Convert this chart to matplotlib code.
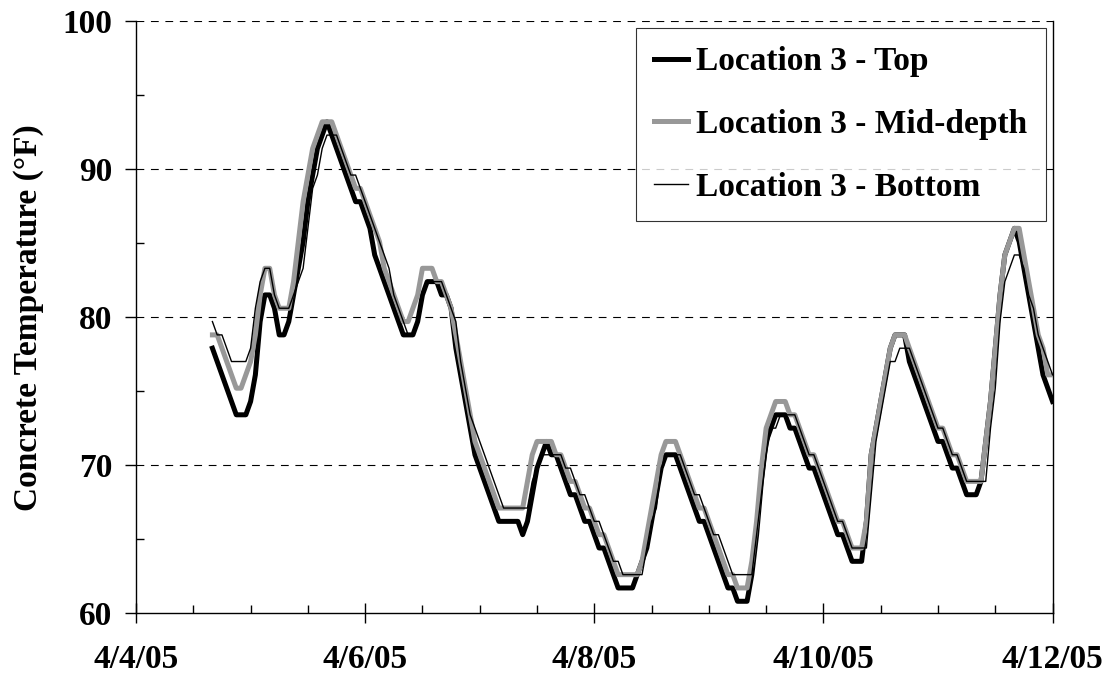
import matplotlib
matplotlib.use('Agg')
import matplotlib.pyplot as plt
import matplotlib.dates as mdates
from matplotlib.ticker import FuncFormatter, MultipleLocator
import pandas as pd

# hourly readings starting 4/4/05 16:00 (deg F)
start_time = '2005-04-04 16:00'

temp_top = [
    77.9, 77.0, 76.1, 75.2, 74.3, 73.4, 73.4, 73.4, 74.3, 76.1, 79.7, 81.5,
    81.5, 80.6, 78.8, 78.8, 79.7, 81.5, 83.3, 85.1, 87.8, 89.6, 91.4, 92.3,
    93.2, 92.3, 91.4, 90.5, 89.6, 88.7, 87.8, 87.8, 86.9, 86.0, 84.2, 83.3,
    82.4, 81.5, 80.6, 79.7, 78.8, 78.8, 78.8, 79.7, 81.5, 82.4, 82.4, 82.4,
    81.5, 81.5, 80.6, 77.9, 76.1, 74.3, 72.5, 70.7, 69.8, 68.9, 68.0, 67.1,
    66.2, 66.2, 66.2, 66.2, 66.2, 65.3, 66.2, 68.0, 69.8, 70.7, 71.6, 70.7,
    70.7, 69.8, 68.9, 68.0, 68.0, 67.1, 66.2, 66.2, 65.3, 64.4, 64.4, 63.5,
    62.6, 61.7, 61.7, 61.7, 61.7, 62.6, 63.5, 64.4, 66.2, 68.0, 69.8, 70.7,
    70.7, 70.7, 69.8, 68.9, 68.0, 67.1, 66.2, 66.2, 65.3, 64.4, 63.5, 62.6,
    61.7, 61.7, 60.8, 60.8, 60.8, 62.6, 65.3, 68.9, 71.6, 72.5, 73.4, 73.4,
    73.4, 72.5, 72.5, 71.6, 70.7, 69.8, 69.8, 68.9, 68.0, 67.1, 66.2, 65.3,
    65.3, 64.4, 63.5, 63.5, 63.5, 66.2, 70.7, 72.5, 74.3, 76.1, 77.9, 78.8,
    78.8, 78.8, 77.0, 76.1, 75.2, 74.3, 73.4, 72.5, 71.6, 71.6, 70.7, 69.8,
    69.8, 68.9, 68.0, 68.0, 68.0, 68.9, 71.6, 74.3, 77.9, 81.5, 84.2, 85.1,
    86.0, 85.1, 83.3, 81.5, 79.7, 77.9, 76.1, 75.2, 74.3,
]

temp_mid = [
    78.8, 78.8, 77.9, 77.0, 76.1, 75.2, 75.2, 76.1, 77.0, 78.8, 81.5, 83.3,
    83.3, 81.5, 80.6, 80.6, 80.6, 82.4, 85.1, 87.8, 89.6, 91.4, 92.3, 93.2,
    93.2, 93.2, 92.3, 91.4, 90.5, 89.6, 88.7, 88.7, 87.8, 86.9, 86.0, 85.1,
    83.3, 82.4, 81.5, 80.6, 79.7, 79.7, 80.6, 81.5, 83.3, 83.3, 83.3, 82.4,
    82.4, 81.5, 80.6, 78.8, 77.0, 75.2, 73.4, 71.6, 70.7, 69.8, 68.9, 68.0,
    67.1, 67.1, 67.1, 67.1, 67.1, 67.1, 68.9, 70.7, 71.6, 71.6, 71.6, 71.6,
    70.7, 70.7, 69.8, 68.9, 68.9, 68.0, 67.1, 67.1, 66.2, 65.3, 65.3, 64.4,
    63.5, 62.6, 62.6, 62.6, 62.6, 62.6, 63.5, 65.3, 67.1, 68.9, 70.7, 71.6,
    71.6, 71.6, 70.7, 69.8, 68.9, 68.0, 67.1, 67.1, 66.2, 65.3, 64.4, 63.5,
    62.6, 62.6, 61.7, 61.7, 61.7, 63.5, 66.2, 69.8, 72.5, 73.4, 74.3, 74.3,
    74.3, 73.4, 73.4, 72.5, 71.6, 70.7, 70.7, 69.8, 68.9, 68.0, 67.1, 66.2,
    66.2, 65.3, 64.4, 64.4, 64.4, 66.2, 70.7, 72.5, 74.3, 76.1, 77.9, 78.8,
    78.8, 78.8, 77.9, 77.0, 76.1, 75.2, 74.3, 73.4, 72.5, 72.5, 71.6, 70.7,
    70.7, 69.8, 68.9, 68.9, 68.9, 68.9, 71.6, 74.3, 77.9, 81.5, 84.2, 85.1,
    86.0, 86.0, 84.2, 82.4, 80.6, 78.8, 77.9, 76.1, 76.1,
]

temp_bottom = [
    79.7, 78.8, 78.8, 77.9, 77.0, 77.0, 77.0, 77.0, 77.9, 80.6, 82.4, 83.3,
    83.3, 81.5, 80.6, 80.6, 80.6, 81.5, 82.4, 83.3, 86.0, 88.7, 89.6, 91.4,
    92.3, 92.3, 92.3, 91.4, 90.5, 89.6, 89.6, 88.7, 87.8, 86.9, 86.0, 85.1,
    84.2, 83.3, 81.5, 80.6, 79.7, 78.8, 78.8, 79.7, 81.5, 82.4, 82.4, 82.4,
    82.4, 81.5, 80.6, 79.7, 77.0, 75.2, 73.4, 72.5, 71.6, 70.7, 69.8, 68.9,
    68.0, 67.1, 67.1, 67.1, 67.1, 67.1, 67.1, 68.9, 69.8, 70.7, 70.7, 70.7,
    70.7, 70.7, 69.8, 69.8, 68.9, 68.0, 68.0, 67.1, 66.2, 66.2, 65.3, 64.4,
    63.5, 63.5, 62.6, 62.6, 62.6, 62.6, 62.6, 64.4, 66.2, 67.1, 69.8, 70.7,
    70.7, 70.7, 70.7, 69.8, 68.9, 68.0, 68.0, 67.1, 66.2, 65.3, 65.3, 64.4,
    63.5, 62.6, 62.6, 62.6, 62.6, 62.6, 65.3, 68.0, 70.7, 72.5, 72.5, 73.4,
    73.4, 73.4, 73.4, 72.5, 71.6, 70.7, 70.7, 69.8, 68.9, 68.0, 67.1, 66.2,
    66.2, 65.3, 64.4, 64.4, 64.4, 64.4, 68.0, 71.6, 73.4, 75.2, 77.0, 77.0,
    77.9, 77.9, 77.9, 77.0, 76.1, 75.2, 74.3, 73.4, 72.5, 72.5, 71.6, 70.7,
    70.7, 69.8, 68.9, 68.9, 68.9, 68.9, 68.9, 72.5, 75.2, 79.7, 82.4, 83.3,
    84.2, 84.2, 83.3, 81.5, 80.6, 78.8, 77.9, 77.0, 76.1,
]

series_labels = ['Location 3 - Top', 'Location 3 - Mid-depth', 'Location 3 - Bottom']
x_range = ['2005-04-04', '2005-04-12']

times = pd.date_range(start_time, periods=len(temp_top), freq='h')

plt.rcParams['font.family'] = ['Liberation Serif', 'DejaVu Serif']
plt.rcParams['font.weight'] = 'bold'

fig = plt.figure(figsize=(11.15, 6.82), dpi=100)
ax = fig.add_axes([0.122, 0.101, 0.822, 0.868])

# dashed major gridlines
for yv in [70, 80, 90, 100]:
    ax.axhline(yv, color='black', lw=0.8, ls=(0, (7, 6)), zorder=1)

ax.plot(times, temp_top, color='black', lw=3.6, label=series_labels[0], zorder=3)
ax.plot(times, temp_mid, color='#989898', lw=3.6, label=series_labels[1], zorder=4)
ax.plot(times, temp_bottom, color='black', lw=1.0, label=series_labels[2], zorder=5)

ax.set_xlim(pd.Timestamp(x_range[0]), pd.Timestamp(x_range[1]))
ax.set_ylim(60, 100)

ax.xaxis.set_major_locator(mdates.DayLocator(bymonthday=[4, 6, 8, 10, 12]))
ax.xaxis.set_minor_locator(mdates.HourLocator(byhour=[0, 12]))
ax.xaxis.set_major_formatter(FuncFormatter(
    lambda v, pos: '{0.month}/{0.day}/{0:%y}'.format(mdates.num2date(v))))
ax.yaxis.set_major_locator(MultipleLocator(10))
ax.yaxis.set_minor_locator(MultipleLocator(5))

ax.tick_params(axis='x', which='major', direction='inout', length=14.4, width=1,
               labelsize=24, pad=15)
ax.tick_params(axis='x', which='minor', direction='in', length=6, width=1)
ax.tick_params(axis='y', which='major', direction='out', length=8, width=1,
               labelsize=24, pad=9)
ax.tick_params(axis='y', which='minor', direction='in', length=6, width=1)

ax.spines['top'].set_visible(False)
for s in ['left', 'bottom', 'right']:
    ax.spines[s].set_linewidth(1)

ax.set_ylabel('Concrete Temperature (\u00b0F)', fontsize=24, fontweight='bold')
ax.yaxis.set_label_coords(-0.1, 0.5)

leg = ax.legend(loc='upper right', bbox_to_anchor=(1.0, 1.0), fontsize=24,
                frameon=True, fancybox=False, handlelength=1.0, handletextpad=0.25,
                labelspacing=0.95, borderpad=0.55, borderaxespad=0.21)
leg.get_frame().set_edgecolor('black')
leg.get_frame().set_linewidth(0.8)

fig.savefig('out.png', dpi=100)
